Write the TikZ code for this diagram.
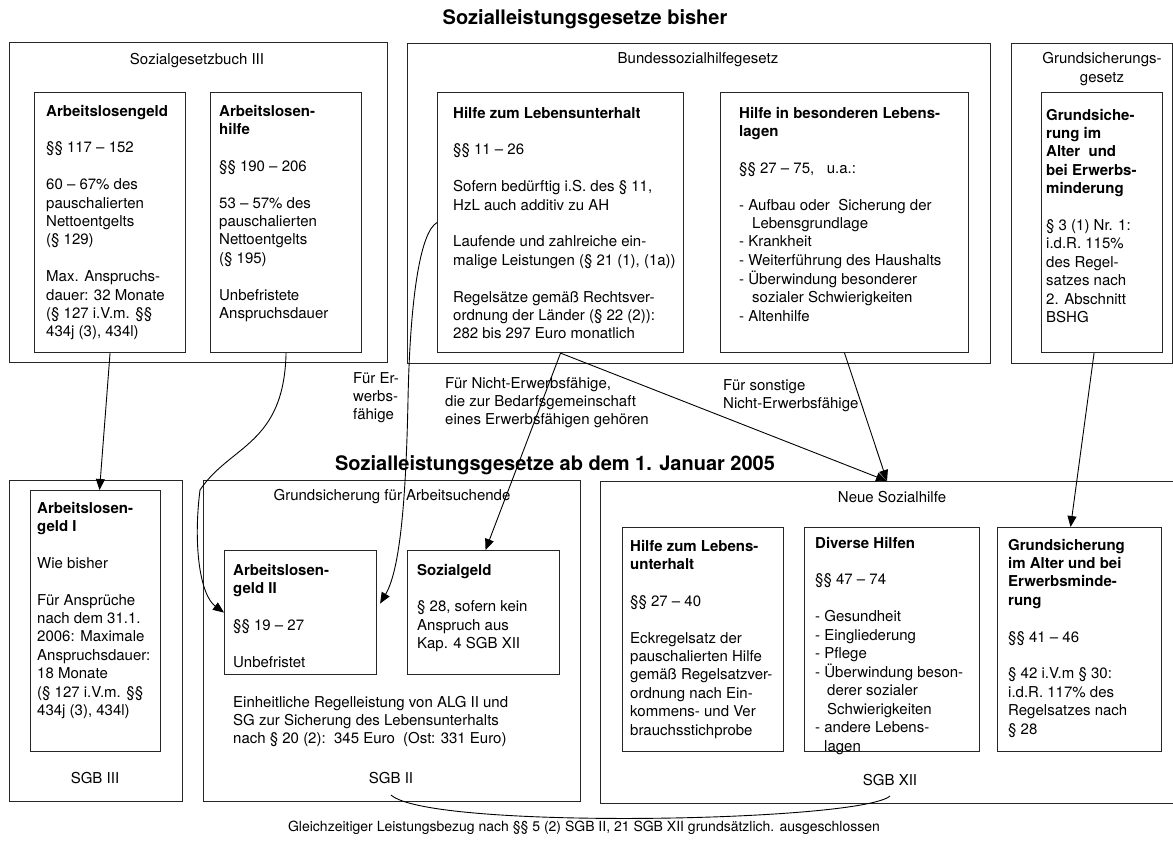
\documentclass[tikz,border=0pt]{standalone}
\usepackage{fontspec}
\setmainfont{TeX Gyre Heros}
\usetikzlibrary{arrows.meta,calc}
\newcommand\pgap{\\[18.4pt]}
\newcommand\tl[1]{\begin{tabular}[t]{@{}l@{}}#1\end{tabular}}
\tikzset{
  frame/.style={draw=black!85, line width=1.1pt, inner sep=0pt, anchor=north west},
  txt/.style={anchor=base west, inner sep=0pt, font=\fontsize{15}{18.4}\selectfont},
  lbl/.style={inner sep=0pt, align=center, font=\fontsize{15}{18.4}\selectfont},
  ttl/.style={inner sep=0pt, font=\fontsize{20}{24}\selectfont\bfseries},
  conn/.style={draw, line width=0.9pt, -{Triangle[length=11pt,width=9pt]}},
  plain/.style={draw, line width=0.9pt},
}
\begin{document}
\begin{tikzpicture}[x=1pt,y=-1pt]
\fill[white] (0,0) rectangle (1173,844);
\useasboundingbox (0,0) rectangle (1173,844);

% titles
\node[ttl] (title1) at (585,19) {Sozialleistungsgesetze bisher};
\node[ttl] (title2) at (555,465) {Sozialleistungsgesetze ab dem 1. Januar 2005};

% ---------- top frames ----------
\node[frame, minimum width=378pt, minimum height=320pt] (sgb3) at (9,42) {};
\node[frame, minimum width=151pt, minimum height=260pt] (alg) at (34,92) {};
\node[frame, minimum width=151pt, minimum height=260pt] (alhi) at (210,92) {};
\node[frame, minimum width=583pt, minimum height=320pt] (bshg) at (407,43) {};
\node[frame, minimum width=246pt, minimum height=260pt] (hzl) at (437,92) {};
\node[frame, minimum width=248pt, minimum height=260pt] (hbl) at (720,92) {};
\node[frame, minimum width=161pt, minimum height=320pt] (gsig) at (1011,43) {};
\node[frame, minimum width=121pt, minimum height=260pt] (gsi) at (1041,92) {};

\node[lbl] (l-sgb3) at (197,61) {Sozialgesetzbuch III};
\node[lbl] (l-bshg) at (698,60) {Bundessozialhilfegesetz};
\node[lbl] (l-gsig) at (1102,69) {Grundsicherungs-\\gesetz};

\node[txt] (t-alg) at (46,116) {\tl{\textbf{Arbeitslosengeld}\pgap
§§ 117 – 152\pgap
60 – 67\% des\\pauschalierten\\Nettoentgelts\\(§ 129)\pgap
Max. Anspruchs-\\dauer: 32 Monate\\(§ 127 i.V.m. §§\\434j (3), 434l)}};

\node[txt] (t-alhi) at (219,116) {\tl{\textbf{Arbeitslosen-}\\\textbf{hilfe}\pgap
§§ 190 – 206\pgap
53 – 57\% des\\pauschalierten\\Nettoentgelts\\(§ 195)\pgap
Unbefristete\\Anspruchsdauer}};

\node[txt] (t-hzl) at (453,118) {\tl{\textbf{Hilfe zum Lebensunterhalt}\pgap
§§ 11 – 26\pgap
Sofern bedürftig i.S. des § 11,\\HzL auch additiv zu AH\pgap
Laufende und zahlreiche ein-\\malige Leistungen (§ 21 (1), (1a))\pgap
Regelsätze gemäß Rechtsver-\\ordnung der Länder (§ 22 (2)):\\282 bis 297 Euro monatlich}};

\node[txt] (t-hbl) at (739,118) {\tl{\textbf{Hilfe in besonderen Lebens-}\\\textbf{lagen}\pgap
§§ 27 – 75,\ \ \ u.a.:\pgap
- Aufbau oder\ \ Sicherung der\\\hspace*{13pt}Lebensgrundlage\\- Krankheit\\- Weiterführung des Haushalts\\- Überwindung besonderer\\\hspace*{13pt}sozialer Schwierigkeiten\\- Altenhilfe}};

\node[txt] (t-gsi) at (1046,120) {\tl{\textbf{Grundsiche-}\\\textbf{rung im}\\\textbf{Alter\ \ und}\\\textbf{bei Erwerbs-}\\\textbf{minderung}\pgap
§ 3 (1) Nr. 1:\\i.d.R. 115\%\\des Regel-\\satzes nach\\2. Abschnitt\\BSHG}};

% ---------- bottom frames ----------
\node[frame, minimum width=173pt, minimum height=321pt] (sgb3n) at (9,480) {};
\node[frame, minimum width=130pt, minimum height=261pt] (alg1) at (30,490) {};
\node[frame, minimum width=377pt, minimum height=321pt] (sgb2) at (203,480) {};
\node[frame, minimum width=152pt, minimum height=124pt] (alg2) at (224,550) {};
\node[frame, minimum width=152pt, minimum height=124pt] (sozg) at (407,550) {};
\node[frame, minimum width=580pt, minimum height=322pt] (sgb12) at (600,481) {};
\node[frame, minimum width=161pt, minimum height=224pt] (hzln) at (622,527) {};
\node[frame, minimum width=175pt, minimum height=224pt] (div) at (804,527) {};
\node[frame, minimum width=164pt, minimum height=224pt] (gsin) at (997,527) {};

\node[lbl] (l-sgb2t) at (392,497) {Grundsicherung für Arbeitsuchende};
\node[lbl] (l-nsh) at (892,497) {Neue Sozialhilfe};
\node[lbl] (l-sgb3n) at (95,778) {SGB III};
\node[lbl] (l-sgb2) at (391,778) {SGB II};
\node[lbl] (l-sgb12) at (890,780) {SGB XII};

\node[txt] (t-alg1) at (37,513) {\tl{\textbf{Arbeitslosen-}\\\textbf{geld I}\pgap
Wie bisher\pgap
Für Ansprüche\\nach dem 31.1.\\2006: Maximale\\Anspruchsdauer:\\18 Monate\\(§ 127 i.V.m. §§\\434j (3), 434l)}};

\node[txt] (t-alg2) at (233,575) {\tl{\textbf{Arbeitslosen-}\\\textbf{geld II}\pgap
§§ 19 – 27\pgap
Unbefristet}};

\node[txt] (t-sozg) at (417,575) {\tl{\textbf{Sozialgeld}\pgap
§ 28, sofern kein\\Anspruch aus\\Kap. 4 SGB XII}};

\node[txt] (t-rl) at (233,707) {\tl{Einheitliche Regelleistung von ALG II und\\SG zur Sicherung des Lebensunterhalts\\nach § 20 (2):\ \ 345 Euro\ \ (Ost: 331 Euro)}};

\node[txt] (t-hzln) at (630,551) {\tl{\textbf{Hilfe zum Lebens-}\\\textbf{unterhalt}\pgap
§§ 27 – 40\pgap
Eckregelsatz der\\pauschalierten Hilfe\\gemäß Regelsatzver-\\ordnung nach Ein-\\kommens- und Ver\\brauchsstichprobe}};

\node[txt] (t-div) at (815,548) {\tl{\textbf{Diverse Hilfen}\pgap
§§ 47 – 74\pgap
- Gesundheit\\- Eingliederung\\- Pflege\\- Überwindung beson-\\\hspace*{12pt}derer sozialer\\\hspace*{12pt}Schwierigkeiten\\- andere Lebens-\\\hspace*{9pt}lagen}};

\node[txt] (t-gsin) at (1008,550) {\tl{\textbf{Grundsicherung}\\\textbf{im Alter und bei}\\\textbf{Erwerbsminde-}\\\textbf{rung}\pgap
§§ 41 – 46\pgap
§ 42 i.V.m § 30:\\i.d.R. 117\% des\\Regelsatzes nach\\§ 28}};

% connector labels
\node[txt] (l-erw) at (353,383) {\tl{Für Er-\\werbs-\\fähige}};
\node[txt] (l-nerw) at (445,388) {\tl{Für Nicht-Erwerbsfähige,\\die zur Bedarfsgemeinschaft\\eines Erwerbsfähigen gehören}};
\node[txt] (l-sonst) at (723,390) {\tl{Für sonstige\\Nicht-Erwerbsfähige}};

\node[inner sep=0pt, font=\fontsize{14}{16}\selectfont] (l-bottom) at (584,828) {Gleichzeitiger Leistungsbezug nach §§ 5 (2) SGB II, 21 SGB XII grundsätzlich. ausgeschlossen};

% ---------- connectors ----------
\coordinate (nsh) at ($(sgb12.north west)+(287,0)$);
\coordinate (c1) at (391,795);
\coordinate (c2) at (890,796);

\path[conn] (alg.south) -- ([xshift=4pt]alg1.north);
\path[conn] (alhi.south) .. controls (284,445) and (230,445) .. (200,490)
   .. controls (193,545) and (200,595) .. (alg2.west);
\path[conn] (hzl.west) .. controls (420,232) and (410,300) .. (408,400)
   .. controls (406,500) and (400,570) .. ([xshift=3pt,yshift=9pt]alg2.east);
\path[conn] (hzl.south) -- ([xshift=2pt]sozg.north);
\path[conn] (hzl.south) -- (nsh);
\path[conn] (hbl.south) -- (nsh);
\path[conn] ([xshift=-8pt]gsi.south) -- ([xshift=-9pt]gsin.north);
\path[plain] (c1) .. controls (430,830) and (860,822) .. (c2);
\end{tikzpicture}
\end{document}
